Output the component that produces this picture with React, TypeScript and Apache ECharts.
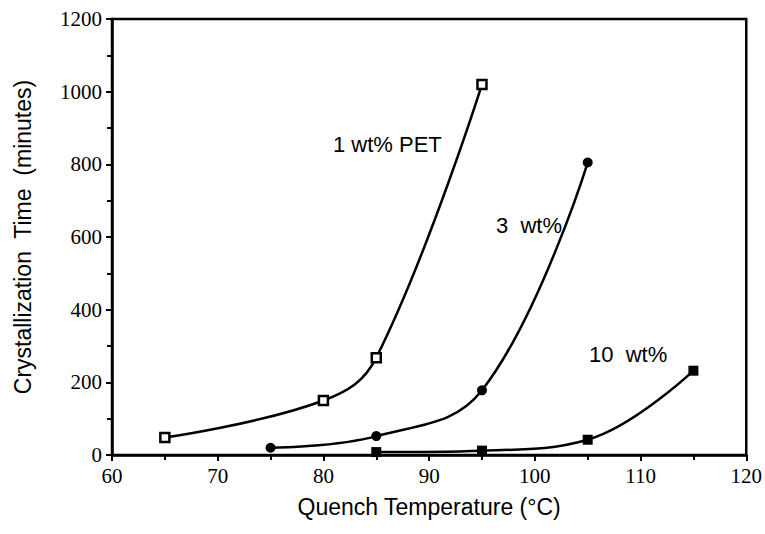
import React, { useEffect, useRef } from "react";
import * as echarts from "echarts";

const temps1 = [65, 80, 85, 95];
const pet1 = [48, 150, 268, 1020];
const temps3 = [75, 85, 95, 105];
const pet3 = [20, 52, 178, 805];
const temps10 = [85, 95, 105, 115];
const pet10 = [8, 12, 42, 232];

const serif = "Liberation Serif, serif";
const sans = "Liberation Sans, Arial, sans-serif";

export default function App() {
  const ref = useRef<HTMLDivElement>(null);
  useEffect(() => {
    document.body.style.margin = "0";
    if (!ref.current) return;
    const chart = echarts.init(ref.current, undefined, { renderer: "svg" });
    const mk = (xs: number[], ys: number[]) => xs.map((x, i) => [x, ys[i]]);
    const lineStyle = { color: "#000", width: 2.5 };
    const tickLabel = {
      fontFamily: serif,
      fontSize: 21,
      color: "#000",
      margin: 10,
      formatter: (v: number) => "{s|" + v + "}",
      rich: { s: { fontFamily: serif, fontSize: 21, color: "#000" } },
    };
    chart.setOption({
      animation: false,
      backgroundColor: "#fff",
      grid: {
        left: 112,
        right: 16,
        top: 19,
        bottom: 79,
        show: true,
        borderColor: "#000",
        borderWidth: 2.5,
        containLabel: false,
      },
      xAxis: {
        type: "value",
        min: 60,
        max: 120,
        interval: 10,
        name: "Quench Temperature (°C)",
        nameLocation: "middle",
        nameGap: 40,
        nameTextStyle: { fontFamily: sans, fontSize: 23, color: "#000" },
        axisLine: { show: true, lineStyle: { color: "#000", width: 2.5 } },
        axisTick: { show: true, length: 6, lineStyle: { color: "#000", width: 2 } },
        minorTick: { show: true, splitNumber: 2, length: 5, lineStyle: { color: "#000", width: 2 } },
        axisLabel: tickLabel,
        splitLine: { show: false },
      },
      yAxis: {
        type: "value",
        min: 0,
        max: 1200,
        interval: 200,
        name: "Crystallization  Time  (minutes)",
        nameLocation: "middle",
        nameGap: 78,
        nameTextStyle: { fontFamily: sans, fontSize: 23, color: "#000" },
        axisLine: { show: true, lineStyle: { color: "#000", width: 2.5 } },
        axisTick: { show: true, length: 6, lineStyle: { color: "#000", width: 2 } },
        minorTick: { show: true, splitNumber: 2, length: 5, lineStyle: { color: "#000", width: 2 } },
        axisLabel: tickLabel,
        splitLine: { show: false },
      },
      series: [
        {
          type: "line",
          data: mk(temps1, pet1),
          smooth: 0.4,
          symbol: "rect",
          symbolSize: 9,
          itemStyle: { color: "#fff", borderColor: "#000", borderWidth: 2.5 },
          lineStyle,
          z: 3,
        },
        {
          type: "line",
          data: mk(temps3, pet3),
          smooth: 0.4,
          symbol: "circle",
          symbolSize: 10,
          itemStyle: { color: "#000" },
          lineStyle,
        },
        {
          type: "line",
          data: mk(temps10, pet10),
          smooth: 0.4,
          symbol: "rect",
          symbolSize: 10,
          itemStyle: { color: "#000" },
          lineStyle,
        },
      ],
      graphic: [
        { type: "text", left: 333, top: 133, style: { text: "1 wt% PET", fontFamily: sans, fontSize: 22, fill: "#000" } },
        { type: "text", left: 496, top: 214, style: { text: "3  wt%", fontFamily: sans, fontSize: 22, fill: "#000" } },
        { type: "text", left: 589, top: 343, style: { text: "10  wt%", fontFamily: sans, fontSize: 22, fill: "#000" } },
      ],
    });
    return () => chart.dispose();
  }, []);
  return <div ref={ref} style={{ width: 765, height: 534 }} />;
}
